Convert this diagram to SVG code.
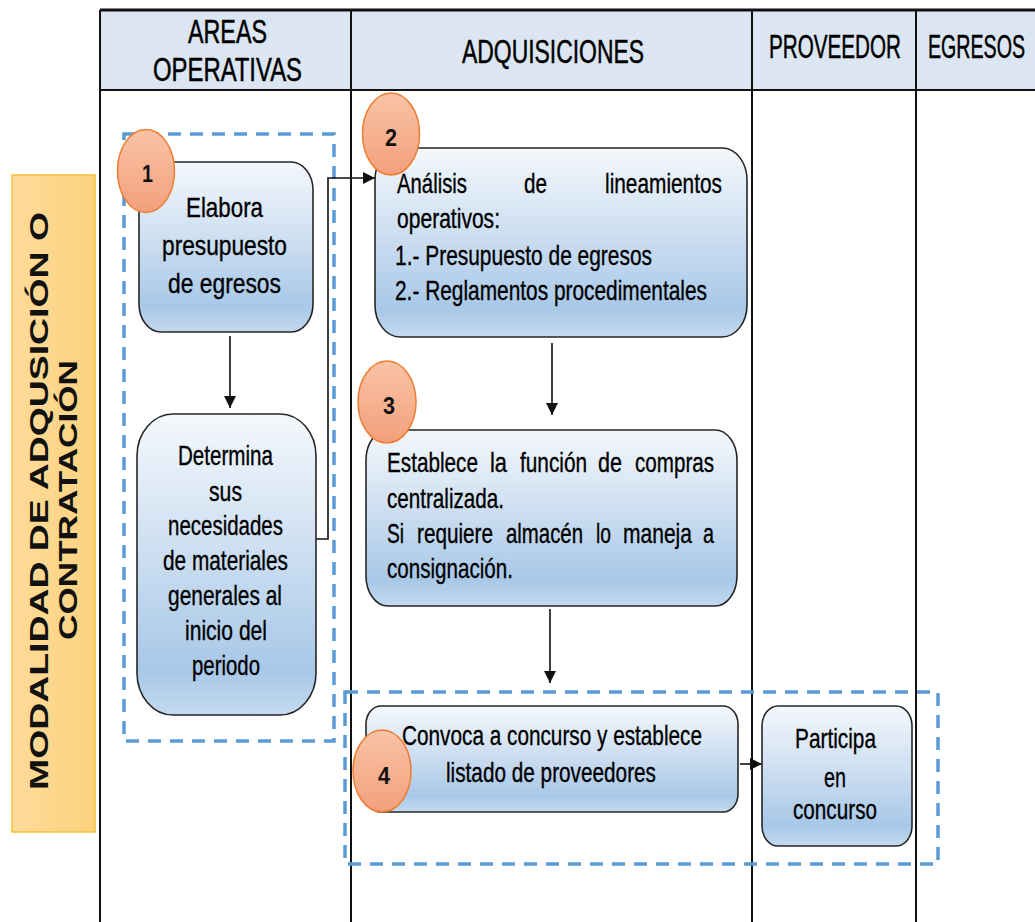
<svg xmlns="http://www.w3.org/2000/svg" width="1035" height="922" viewBox="0 0 1035 922">
<style>
.t{font-family:"Liberation Sans",Arial,sans-serif;font-size:28px;fill:#000;stroke:#000;stroke-width:0.35}
.h{font-family:"Liberation Sans",Arial,sans-serif;font-size:33px;fill:#000;stroke:#000;stroke-width:0.5}
.n{font-family:"Liberation Sans",Arial,sans-serif;font-size:24px;font-weight:bold;fill:#111}
.v{font-family:"Liberation Sans",Arial,sans-serif;font-size:25px;font-weight:bold;fill:#111}
.box{fill:url(#gBlue);stroke:#262626;stroke-width:1.6}
.num{fill:url(#gOr);stroke:#ED7D31;stroke-width:1.5}
.dash{fill:none;stroke:#5B9BD5;stroke-width:3.5;stroke-dasharray:13 9}
.lane{stroke:#111;stroke-width:2;fill:none}
.con{stroke:#111;stroke-width:1.6;fill:none;marker-end:url(#arr)}
</style>
<defs>
<linearGradient id="gBlue" x1="0" y1="0" x2="0" y2="1">
<stop offset="0" stop-color="#F4F8FC"/>
<stop offset="0.5" stop-color="#C9DCF0"/>
<stop offset="0.85" stop-color="#A8C8E8"/>
<stop offset="1" stop-color="#C4D9EF"/>
</linearGradient>
<linearGradient id="gOr" x1="0" y1="0" x2="0" y2="1">
<stop offset="0" stop-color="#F9C3A6"/>
<stop offset="1" stop-color="#F3A07B"/>
</linearGradient>
<linearGradient id="gY" x1="0" y1="0" x2="1" y2="0">
<stop offset="0" stop-color="#FEDB9A"/>
<stop offset="1" stop-color="#FCD27E"/>
</linearGradient>
<marker id="arr" viewBox="0 0 12 12" markerWidth="12" markerHeight="12" refX="12" refY="6" orient="auto" markerUnits="userSpaceOnUse">
<path d="M0,0 L12,6 L0,12 z" fill="#111"/>
</marker>
</defs>
<rect width="1035" height="922" fill="#fff"/>

<g id="lanes">
<rect x="100" y="10" width="935" height="80" fill="#DCE6F2"/>
<line class="lane" x1="100" y1="10" x2="1035" y2="10" style="stroke-width:3"/>
<line class="lane" x1="100" y1="90" x2="1035" y2="90"/>
<line class="lane" x1="100" y1="10" x2="100" y2="922"/>
<line class="lane" x1="351" y1="10" x2="351" y2="922"/>
<line class="lane" x1="752" y1="10" x2="752" y2="922"/>
<line class="lane" x1="916" y1="10" x2="916" y2="922"/>
<text class="h" x="188" y="43" textLength="79" lengthAdjust="spacingAndGlyphs">AREAS</text>
<text class="h" x="153" y="81" textLength="149" lengthAdjust="spacingAndGlyphs">OPERATIVAS</text>
<text class="h" x="462" y="63" textLength="182" lengthAdjust="spacingAndGlyphs">ADQUISICIONES</text>
<text class="h" x="769" y="58" textLength="132" lengthAdjust="spacingAndGlyphs">PROVEEDOR</text>
<text class="h" x="928" y="58" textLength="97" lengthAdjust="spacingAndGlyphs">EGRESOS</text>
</g>

<g id="phase">
<rect x="12" y="175" width="83" height="657" fill="url(#gY)" stroke="#F2C13C" stroke-width="1.5"/>
<text class="v" transform="translate(48,790) rotate(-90)" x="0" y="0" textLength="578" lengthAdjust="spacingAndGlyphs">MODALIDAD DE ADQUSICIÓN O</text>
<text class="v" transform="translate(77,640) rotate(-90)" x="0" y="0" textLength="280" lengthAdjust="spacingAndGlyphs">CONTRATACIÓN</text>
</g>

<g id="groups">
<rect class="dash" x="124" y="134" width="210" height="607"/>
<rect class="dash" x="345" y="692" width="593" height="172"/>
</g>

<g id="connectors">
<line class="con" x1="230" y1="336" x2="230" y2="408"/>
<polyline class="con" points="316,539 328,539 328,178 375,178"/>
<line class="con" x1="552" y1="343" x2="552" y2="415"/>
<line class="con" x1="550" y1="609" x2="550" y2="683"/>
<line class="con" x1="740" y1="764" x2="762" y2="764"/>
</g>

<g id="node1">
<rect class="box" x="139" y="162" width="174" height="170" rx="22" ry="28"/>
<text class="t" x="186" y="217" textLength="77" lengthAdjust="spacingAndGlyphs">Elabora</text>
<text class="t" x="162" y="255" textLength="125" lengthAdjust="spacingAndGlyphs">presupuesto</text>
<text class="t" x="168" y="293" textLength="113" lengthAdjust="spacingAndGlyphs">de egresos</text>
</g>

<g id="node1b">
<rect class="box" x="137" y="414" width="179" height="301" rx="36" ry="42"/>
<text class="t" x="178" y="465" textLength="95" lengthAdjust="spacingAndGlyphs">Determina</text>
<text class="t" x="209" y="501" textLength="33" lengthAdjust="spacingAndGlyphs">sus</text>
<text class="t" x="168" y="535" textLength="115" lengthAdjust="spacingAndGlyphs">necesidades</text>
<text class="t" x="163" y="570" textLength="125" lengthAdjust="spacingAndGlyphs">de materiales</text>
<text class="t" x="168" y="605" textLength="114" lengthAdjust="spacingAndGlyphs">generales al</text>
<text class="t" x="185" y="640" textLength="82" lengthAdjust="spacingAndGlyphs">inicio del</text>
<text class="t" x="192" y="675" textLength="68" lengthAdjust="spacingAndGlyphs">periodo</text>
</g>

<g id="node2">
<rect class="box" x="375" y="148" width="372" height="189" rx="25" ry="32"/>
<text class="t" x="397" y="193" textLength="70" lengthAdjust="spacingAndGlyphs">Análisis</text>
<text class="t" x="524" y="193" textLength="23" lengthAdjust="spacingAndGlyphs">de</text>
<text class="t" x="605" y="193" textLength="117" lengthAdjust="spacingAndGlyphs">lineamientos</text>
<text class="t" x="397" y="228" textLength="103" lengthAdjust="spacingAndGlyphs">operativos:</text>
<text class="t" x="395" y="265" textLength="257" lengthAdjust="spacingAndGlyphs">1.- Presupuesto de egresos</text>
<text class="t" x="395" y="300" textLength="312" lengthAdjust="spacingAndGlyphs">2.- Reglamentos procedimentales</text>
</g>

<g id="node3">
<rect class="box" x="366" y="430" width="371" height="176" rx="22" ry="30"/>
<text class="t" x="387" y="472" textLength="91" lengthAdjust="spacingAndGlyphs">Establece</text>
<text class="t" x="490" y="472" textLength="17" lengthAdjust="spacingAndGlyphs">la</text>
<text class="t" x="520" y="472" textLength="67" lengthAdjust="spacingAndGlyphs">función</text>
<text class="t" x="598" y="472" textLength="24" lengthAdjust="spacingAndGlyphs">de</text>
<text class="t" x="635" y="472" textLength="79" lengthAdjust="spacingAndGlyphs">compras</text>
<text class="t" x="387" y="508" textLength="117" lengthAdjust="spacingAndGlyphs">centralizada.</text>
<text class="t" x="387" y="543" textLength="17" lengthAdjust="spacingAndGlyphs">Si</text>
<text class="t" x="417" y="543" textLength="76" lengthAdjust="spacingAndGlyphs">requiere</text>
<text class="t" x="506" y="543" textLength="77" lengthAdjust="spacingAndGlyphs">almacén</text>
<text class="t" x="596" y="543" textLength="15" lengthAdjust="spacingAndGlyphs">lo</text>
<text class="t" x="623" y="543" textLength="69" lengthAdjust="spacingAndGlyphs">maneja</text>
<text class="t" x="703" y="543" textLength="11" lengthAdjust="spacingAndGlyphs">a</text>
<text class="t" x="387" y="578" textLength="126" lengthAdjust="spacingAndGlyphs">consignación.</text>
</g>

<g id="node4">
<rect class="box" x="366" y="706" width="372" height="106" rx="15" ry="18"/>
<text class="t" x="402" y="745" textLength="300" lengthAdjust="spacingAndGlyphs">Convoca a concurso y establece</text>
<text class="t" x="446" y="782" textLength="210" lengthAdjust="spacingAndGlyphs">listado de proveedores</text>
</g>

<g id="node5">
<rect class="box" x="762" y="706" width="150" height="140" rx="16" ry="20"/>
<text class="t" x="795" y="748" textLength="81" lengthAdjust="spacingAndGlyphs">Participa</text>
<text class="t" x="824" y="787" textLength="22" lengthAdjust="spacingAndGlyphs">en</text>
<text class="t" x="793" y="819" textLength="84" lengthAdjust="spacingAndGlyphs">concurso</text>
</g>

<g id="badge1">
<ellipse class="num" cx="146" cy="171" rx="28.5" ry="41.5"/>
<text class="n" x="142" y="182" textLength="11" lengthAdjust="spacingAndGlyphs">1</text>
</g>
<g id="badge2">
<ellipse class="num" cx="391" cy="134" rx="28.5" ry="41"/>
<text class="n" x="385" y="146" textLength="12" lengthAdjust="spacingAndGlyphs">2</text>
</g>
<g id="badge3">
<ellipse class="num" cx="387" cy="402" rx="29" ry="41"/>
<text class="n" x="383" y="414" textLength="12" lengthAdjust="spacingAndGlyphs">3</text>
</g>
<g id="badge4">
<ellipse class="num" cx="382" cy="771" rx="29" ry="41"/>
<text class="n" x="378" y="784" textLength="12" lengthAdjust="spacingAndGlyphs">4</text>
</g>
</svg>
